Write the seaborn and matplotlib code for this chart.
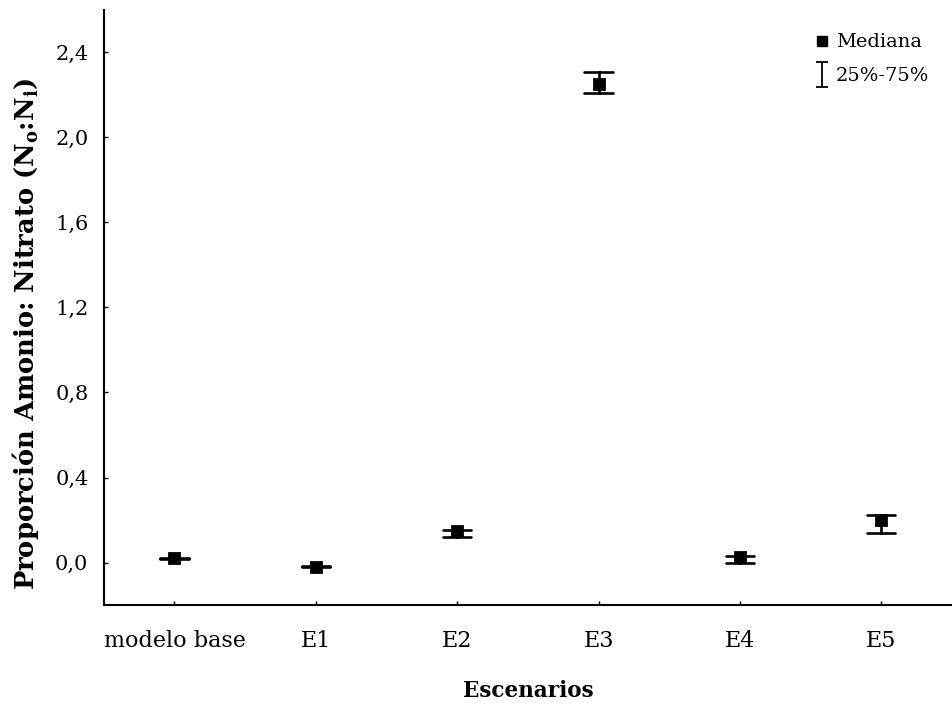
import numpy as np
import pandas as pd
import matplotlib
matplotlib.use("Agg")
import matplotlib.pyplot as plt
from matplotlib.lines import Line2D
from matplotlib.path import Path
import seaborn as sns

# Scenario summaries: first quartile, median, third quartile
escenarios = ["modelo base", "E1", "E2", "E3", "E4", "E5"]
q1 = [0.017, -0.022, 0.122, 2.21, 0.000, 0.137]
mediana = [0.020, -0.019, 0.146, 2.25, 0.024, 0.198]
q3 = [0.023, -0.016, 0.155, 2.31, 0.033, 0.222]
yticks = [0.0, 0.4, 0.8, 1.2, 1.6, 2.0, 2.4]

rows = []
for esc, a, m, b in zip(escenarios, q1, mediana, q3):
    for v in (a, m, b):
        rows.append({"Escenario": esc, "Proporcion": v})
df = pd.DataFrame(rows)

sns.set_style("ticks")
plt.rcParams["font.family"] = ["DejaVu Serif"]
plt.rcParams["mathtext.fontset"] = "dejavuserif"
plt.rcParams["text.color"] = "black"
plt.rcParams["axes.labelcolor"] = "black"

fig = plt.figure(figsize=(9.52, 7.06), dpi=100)
ax = fig.add_axes([0.109, 0.143, 0.891, 0.843])

sns.pointplot(
    data=df, x="Escenario", y="Proporcion", order=escenarios,
    estimator=np.median,
    errorbar=lambda v: (v.min(), v.max()),
    color="black", linestyle="none", marker="s", markersize=7,
    capsize=0.2, err_kws={"linewidth": 1.9}, ax=ax,
)

ax.set_xlim(-0.5, 5.5)
ax.set_ylim(-0.2, 2.6)
ax.set_yticks(yticks)
ax.set_yticklabels([f"{t:.1f}".replace(".", ",") for t in yticks])
ax.tick_params(direction="in", length=3, width=1, labelsize=15, colors="black", pad=11)
ax.tick_params(axis="x", labelsize=16, pad=18)

for s in ("top", "right"):
    ax.spines[s].set_visible(False)
for s in ("left", "bottom"):
    ax.spines[s].set_linewidth(1.5)
    ax.spines[s].set_color("black")

ax.set_xlabel("Escenarios", fontsize=15.5, fontweight="bold", labelpad=20)
ax.set_ylabel(r"Proporción Amonio: Nitrato (N$_\mathbf{o}$:N$_\mathbf{i}$)",
              fontsize=18.5, fontweight="bold")
ax.yaxis.set_label_coords(-0.074, 0.455)

# Legend: median square and an I-beam symbol for the interquartile range
ibeam = Path([(-0.5, 1), (0.5, 1), (0, 1), (0, -1), (-0.5, -1), (0.5, -1)],
             [Path.MOVETO, Path.LINETO, Path.MOVETO, Path.LINETO, Path.MOVETO, Path.LINETO])
handles = [
    Line2D([], [], marker="s", color="black", linestyle="none", markersize=7),
    Line2D([], [], marker=ibeam, color="black", linestyle="none", markersize=18,
           markerfacecolor="none", markeredgewidth=1.3),
]
ax.legend(handles, ["Mediana", "25%-75%"], loc="upper right", frameon=False,
          fontsize=14, handlelength=0.8, handletextpad=0.3, labelspacing=0.8,
          bbox_to_anchor=(0.994, 0.99))

fig.savefig("out.png", dpi=100, facecolor="white")
